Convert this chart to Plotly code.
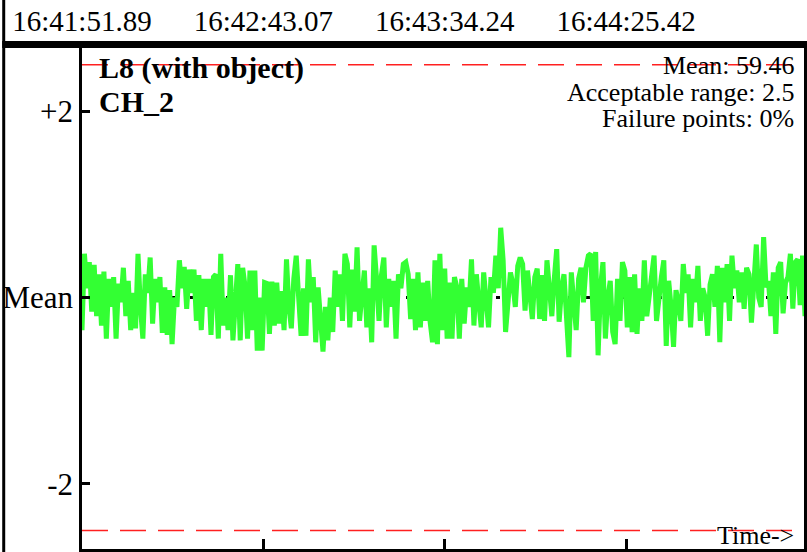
import plotly.graph_objects as go

# ---------------- data ----------------
tick_labels = ["16:41:51.89", "16:42:43.07", "16:43:34.24", "16:44:25.42"]
tick_seconds = [0.0, 51.18, 102.35, 153.53]
total_seconds = 204.0

y_tick_vals = [2, 0, -2]
y_tick_text = ["+2", "Mean", "-2"]
acceptable_range = 2.5
mean_value = 59.46
failure_pct = 0

seg1 = [-0.35, 0.47, 0.1, 0.38, -0.15, 0.35, -0.2, 0.25, -0.3, 0.28, -0.44, 0.2, -0.1, 0.22, -0.44, 0.15,
        -0.05, 0.32, -0.2, 0.18, -0.35, 0.05, -0.33, 0.47, -0.1, -0.44, 0.25, 0.05, 0.43, -0.28, 0.2, -0.05,
        0.22, -0.38, 0.11, -0.4, 0.08, -0.5, 0.0, -0.1, 0.4, 0.1, 0.33, -0.12, 0.3, 0.05, 0.3, -0.25, 0.24,
        -0.35, 0.2, -0.1, 0.2, -0.4, 0.22, 0.25, -0.44, 0.47, -0.3, 0.0, -0.35, 0.24, -0.46, -0.05, 0.36,
        -0.46, 0.32, 0.12, -0.44, 0.29, -0.35, 0.29, -0.57, 0.0, -0.57, 0.16]
seg2 = [0.15, -0.39, 0.17, -0.3, 0.16, -0.28, 0.07, -0.35, 0.41, -0.1, -0.33, 0.2, 0.45, 0.0, -0.41, 0.1,
        -0.41, 0.41, -0.05, 0.22, -0.48, 0.11, -0.2, -0.58, -0.1, -0.46, 0.0, -0.37, 0.29, -0.1, 0.25, -0.25,
        0.47, 0.36, -0.32, 0.3, -0.15, 0.54, -0.25, 0.1, 0.29, -0.32, 0.1, -0.48, 0.56, 0.2, -0.25, 0.24,
        0.43, -0.32, 0.2, -0.1, 0.18, -0.44, 0.25, 0.1, 0.36, 0.38, 0.25, -0.23, 0.2, -0.35, 0.27, -0.32,
        0.16, -0.25, 0.18, -0.26, -0.48, 0.4, -0.5, 0.47, -0.35, 0.31, -0.44, 0.16, -0.44, 0.22]
seg3 = [0.11, -0.44, 0.2, -0.28, 0.11, -0.1, 0.41, -0.3, 0.25, -0.05, -0.32, 0.27, -0.1, -0.32, 0.22, 0.05,
        0.45, 0.1, 0.75, 0.4, -0.37, 0.0, 0.27, 0.15, -0.1, 0.34, 0.43, 0.36, -0.14, 0.29, 0.05, -0.23, 0.22,
        0.31, -0.23, 0.24, -0.25, 0.4, 0.1, -0.2, 0.2, 0.52, -0.26, 0.1, 0.25, -0.3, -0.64, 0.27, -0.1, -0.35,
        0.2, 0.32, -0.05, 0.32, 0.45, 0.47, -0.25, 0.49, -0.62, 0.11, 0.38, -0.44, 0.0, 0.18, -0.37, -0.5,
        0.2, -0.25, 0.38, 0.29, -0.32, 0.22, -0.37]
seg4 = [0.25, -0.39, 0.1, -0.25, 0.4, -0.2, 0.0, 0.22, 0.45, -0.25, 0.05, 0.22, 0.4, -0.52, 0.18, -0.1,
        -0.53, 0.08, -0.05, -0.25, 0.36, 0.05, 0.25, -0.32, 0.2, -0.05, 0.34, -0.25, 0.1, 0.0, -0.41, 0.14,
        0.25, -0.1, 0.34, -0.48, 0.32, -0.05, 0.36, -0.25, 0.45, 0.1, 0.29, -0.05, 0.27, -0.12, 0.32, 0.25,
        -0.27, 0.1, 0.57, 0.0, -0.1, 0.65, 0.11, 0.18, -0.2, 0.27, -0.39, 0.32, 0.38, -0.17, 0.16, 0.22,
        0.47, -0.12, 0.38, 0.41, -0.08, 0.45, -0.2]

deviation = seg1 + seg2 + seg3 + seg4
n = len(deviation)
times = [total_seconds * i / (n - 1) for i in range(n)]

# ---------------- figure ----------------
W, H = 807, 552
ML, MR, MT, MB = 80, 2, 48, 3
pw, ph = W - ML - MR, H - MT - MB

def px(x):
    return (x - ML) / pw

def py(y):
    return (H - MB - y) / ph

SERIF = "Liberation Serif"

fig = go.Figure()

fig.add_trace(go.Scatter(x=[0, total_seconds], y=[0, 0], mode="lines",
                         line=dict(color="black", width=3, dash="4px,14px"),
                         hoverinfo="skip", showlegend=False))
fig.add_trace(go.Scatter(x=times, y=deviation, mode="lines",
                         line=dict(color="#33ff33", width=5),
                         showlegend=False))
for lim in (acceptable_range, -acceptable_range):
    fig.add_trace(go.Scatter(x=[0, total_seconds], y=[lim, lim], mode="lines",
                             line=dict(color="#ff2020", width=1.5, dash="26px,12px"),
                             hoverinfo="skip", showlegend=False))
fig.add_trace(go.Scatter(x=[0, total_seconds], y=[0, 0], xaxis="x2", mode="lines",
                         line=dict(width=0), hoverinfo="skip", showlegend=False))

fig.update_layout(
    width=W, height=H,
    margin=dict(l=ML, r=MR, t=MT, b=MB),
    paper_bgcolor="white", plot_bgcolor="white",
    font=dict(family=SERIF, color="black"),
    xaxis=dict(range=[0, total_seconds], tickvals=tick_seconds, ticktext=[""] * 4,
               ticks="inside", ticklen=10, tickwidth=3, tickcolor="black",
               showline=True, linewidth=3, linecolor="black", mirror=False,
               showgrid=False, zeroline=False, fixedrange=True),
    xaxis2=dict(range=[0, total_seconds], overlaying="x", side="top",
                tickvals=tick_seconds, ticktext=tick_labels, ticks="",
                ticklabelstandoff=10,
                tickfont=dict(family=SERIF, size=29, color="black"),
                showline=False, showgrid=False, zeroline=False, fixedrange=True),
    yaxis=dict(range=[-2.70, 2.68], tickvals=y_tick_vals, ticktext=y_tick_text,
               ticks="inside", ticklen=8, tickwidth=3, tickcolor="black",
               tickfont=dict(family=SERIF, size=31, color="black"),
               showline=True, linewidth=2.5, linecolor="black",
               showgrid=False, zeroline=False, fixedrange=True),
    showlegend=False,
)

fig.add_shape(type="rect", xref="paper", yref="paper",
              x0=px(0), x1=px(3), y0=py(H), y1=py(0), fillcolor="black", line_width=0)
fig.add_shape(type="rect", xref="paper", yref="paper",
              x0=px(0), x1=px(W), y0=py(48), y1=py(41), fillcolor="black", line_width=0)
fig.add_shape(type="rect", xref="paper", yref="paper",
              x0=px(804), x1=px(W), y0=py(H), y1=py(41), fillcolor="black", line_width=0)

fig.add_annotation(text="<b>L8 (with object)</b>", xref="paper", yref="paper",
                   x=px(95), y=py(68), xanchor="left", yanchor="middle", showarrow=False,
                   font=dict(family=SERIF, size=30, color="black"))
fig.add_annotation(text="<b>CH_2</b>", xref="paper", yref="paper",
                   x=px(95), y=py(102), xanchor="left", yanchor="middle", showarrow=False,
                   font=dict(family=SERIF, size=30, color="black"))
right_lines = [f"Mean: {mean_value}", f"Acceptable range: {acceptable_range}", f"Failure points: {failure_pct}%"]
for i, t in enumerate(right_lines):
    fig.add_annotation(text=t, xref="paper", yref="paper",
                       x=px(796), y=py(66 + 26.5 * i), xanchor="right", yanchor="middle",
                       showarrow=False, font=dict(family=SERIF, size=26, color="black"))
fig.add_annotation(text="Time->", xref="paper", yref="paper",
                   x=px(796), y=py(535), xanchor="right", yanchor="middle",
                   showarrow=False, font=dict(family=SERIF, size=26, color="black"))

fig.write_html("out.html", config={"displayModeBar": False},
               post_script="document.body.style.margin='0';document.body.style.overflow='hidden';")
